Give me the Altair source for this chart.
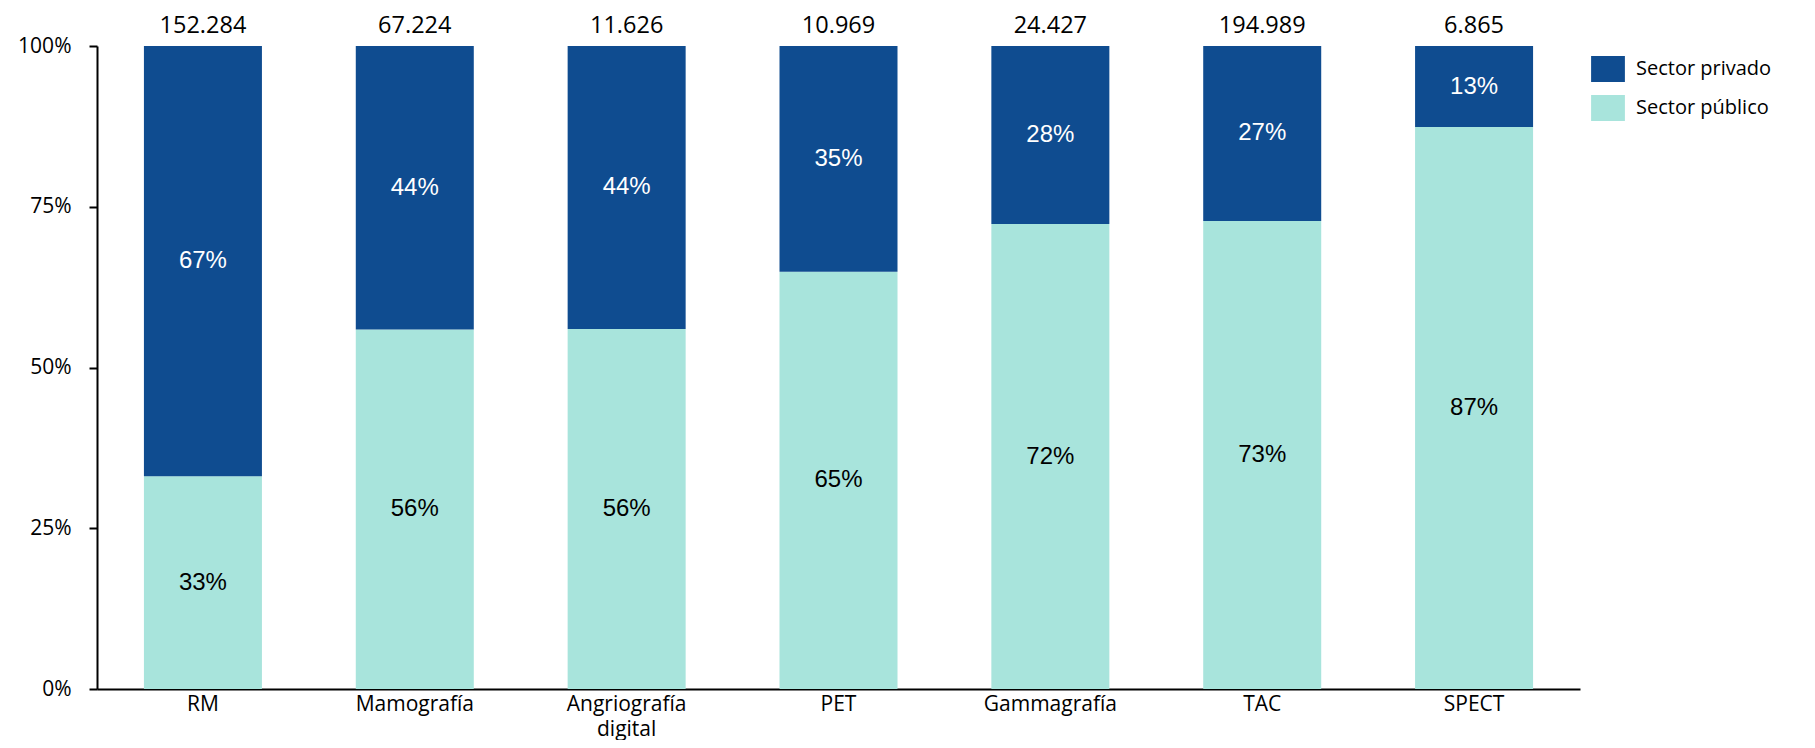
import altair as alt
import pandas as pd

categories = ["RM", "Mamografía", "Angriografía digital", "PET", "Gammagrafía", "TAC", "SPECT"]
publico = [33.1, 55.9, 56.0, 64.9, 72.3, 72.8, 87.4]
privado = [66.9, 44.1, 44.0, 35.1, 27.7, 27.2, 12.6]
totales = ["152.284", "67.224", "11.626", "10.969", "24.427", "194.989", "6.865"]
series = ["Sector privado", "Sector público"]
colors = ["#0F4C90", "#A8E4DC"]
y_ticks = [0, 25, 50, 75, 100]

rows = []
for c, pu, pr in zip(categories, publico, privado):
    rows.append({"cat": c, "serie": "Sector público", "pct": pu, "ord": 0})
    rows.append({"cat": c, "serie": "Sector privado", "pct": pr, "ord": 1})
df = pd.DataFrame(rows)
tot = pd.DataFrame({"cat": categories, "total": totales})

FONT = "Open Sans"

x_enc = alt.X(
    "cat:N", sort=categories,
    scale=alt.Scale(paddingInner=0.443, paddingOuter=0.2215),
    axis=alt.Axis(
        title=None, labelAngle=0, ticks=False, domainColor="black", domainWidth=2,
        labelFont=FONT, labelFontSize=21, labelColor="black", labelPadding=4,
        labelLineHeight=25,
        labelExpr="datum.label == 'Angriografía digital' ? ['Angriografía', 'digital'] : datum.label",
    ),
)

bars = alt.Chart(df).mark_bar().encode(
    x=x_enc,
    y=alt.Y(
        "pct:Q", stack="zero", scale=alt.Scale(domain=[0, 100]),
        axis=alt.Axis(
            title=None, values=y_ticks, grid=False, domainColor="black", domainWidth=2,
            tickColor="black", tickSize=8, tickWidth=2, labelPadding=18,
            labelFont=FONT, labelFontSize=21, labelColor="black",
            labelExpr="datum.value + '%'",
        ),
    ),
    color=alt.Color(
        "serie:N", scale=alt.Scale(domain=series, range=colors),
        legend=alt.Legend(
            title=None, orient="none", legendX=1498, legendY=10,
            symbolType="M-1.3,-1H1.3V1H-1.3Z", symbolSize=676, symbolStrokeWidth=0,
            symbolOpacity=1, labelFont=FONT, labelFontSize=20, labelColor="black",
            labelOffset=15, rowPadding=13,
        ),
    ),
    order=alt.Order("ord:Q", sort="ascending"),
)

labels = alt.Chart(df).transform_stack(
    stack="pct", as_=["y0", "y1"], groupby=["cat"],
    sort=[alt.SortField("ord", order="ascending")],
).transform_calculate(
    mid="(datum.y0 + datum.y1) / 2",
    lbl="format(round(datum.pct), 'd') + '%'",
).mark_text(baseline="middle", font="Liberation Sans", fontSize=24).encode(
    x=alt.X("cat:N", sort=categories),
    y=alt.Y("mid:Q"),
    text="lbl:N",
    color=alt.condition("datum.serie == 'Sector privado'", alt.value("white"), alt.value("black")),
)

totals = alt.Chart(tot).mark_text(
    baseline="alphabetic", dy=-13, font=FONT, fontSize=23.5, color="black"
).encode(
    x=alt.X("cat:N", sort=categories),
    y=alt.YDatum(100),
    text="total:N",
)

chart = alt.layer(bars, labels, totals).properties(
    width=1483, height=643,
    autosize=alt.AutoSizeParams(type="none"),
    padding={"left": 89, "top": 38, "right": 227, "bottom": 51},
).configure_view(stroke=None)

chart.save("out.html", embed_options={"renderer": "svg", "actions": False})
